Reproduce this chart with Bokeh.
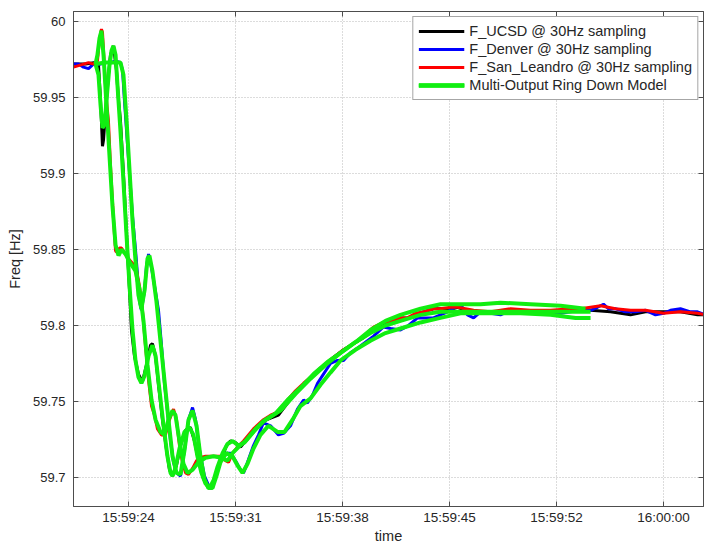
from bokeh.plotting import figure
from bokeh.models import (Range1d, FixedTicker, LinearAxis, Legend, LegendItem,
                          CustomJSTickFormatter)
from bokeh.embed import file_html
from bokeh.resources import INLINE

# ---- data (time = seconds after 15:59:00, frequency in Hz) ----
x_tick_values = [24, 31.2, 38.4, 45.6, 52.8, 60.0]
x_tick_labels = ["15:59:24", "15:59:31", "15:59:38", "15:59:45", "15:59:52", "16:00:00"]
y_tick_values = [59.7, 59.75, 59.8, 59.85, 59.9, 59.95, 60.0]
y_tick_labels = ["59.7", "59.75", "59.8", "59.85", "59.9", "59.95", "60"]

series_names = ["F_UCSD @ 30Hz sampling", "F_Denver @ 30Hz sampling",
                "F_San_Leandro @ 30Hz sampling", "Multi-Output Ring Down Model"]

ucsd_t = [20.30, 21.11, 21.78, 21.98, 22.12, 22.25, 22.32, 22.39, 22.52, 22.65, 22.79, 22.99, 23.19,
          23.33, 23.46, 23.66, 23.93, 24.07, 24.20, 24.40, 24.67, 24.94, 25.21, 25.48, 25.61, 25.82,
          26.02, 26.29, 26.56, 26.76, 26.96, 27.23, 27.50, 27.84, 28.17, 28.44, 28.71, 29.05, 29.32,
          29.52, 29.79, 30.06, 30.33, 30.59, 30.86, 31.20, 31.54, 31.87, 32.41, 33.08, 33.56, 34.09,
          34.70, 35.24, 35.78, 36.38, 36.92, 37.79, 38.47, 39.14, 39.81, 40.49, 41.16, 41.63, 42.30,
          42.77, 43.31, 43.85, 44.52, 44.99, 45.47, 46.14, 46.68, 47.22, 48.36, 49.71, 51.05, 52.40,
          53.74, 55.09, 56.43, 57.78, 58.79, 60.00, 61.14, 62.29, 62.83]
ucsd_f = [59.972, 59.972, 59.973, 59.972, 59.948, 59.918, 59.922, 59.932, 59.948, 59.965, 59.978,
          59.984, 59.968, 59.948, 59.935, 59.900, 59.849, 59.823, 59.797, 59.780, 59.768, 59.763,
          59.774, 59.787, 59.788, 59.780, 59.761, 59.738, 59.718, 59.705, 59.701, 59.708, 59.721,
          59.731, 59.733, 59.724, 59.711, 59.699, 59.695, 59.694, 59.699, 59.708, 59.714, 59.721,
          59.724, 59.723, 59.720, 59.724, 59.731, 59.737, 59.739, 59.741, 59.749, 59.756, 59.761,
          59.767, 59.772, 59.779, 59.784, 59.788, 59.792, 59.797, 59.800, 59.803, 59.805, 59.805,
          59.807, 59.809, 59.811, 59.811, 59.810, 59.812, 59.810, 59.809, 59.809, 59.809, 59.809,
          59.809, 59.810, 59.810, 59.809, 59.807, 59.809, 59.809, 59.809, 59.807, 59.807]

denver_t = [20.30, 20.64, 20.97, 21.31, 21.64, 22.12, 22.45, 22.79, 23.13, 23.46, 23.60, 23.73,
            23.87, 24.07, 24.27, 24.47, 24.61, 24.74, 24.87, 25.08, 25.21, 25.35, 25.55, 25.82,
            26.02, 26.22, 26.42, 26.62, 26.83, 27.03, 27.23, 27.50, 27.77, 28.04, 28.31, 28.51,
            28.78, 29.11, 29.38, 29.65, 29.92, 30.19, 30.53, 30.86, 31.20, 31.54, 31.74, 32.01,
            32.41, 32.75, 33.08, 33.56, 34.09, 34.43, 34.90, 35.37, 35.78, 36.04, 36.38, 36.72,
            37.12, 37.59, 38.06, 38.47, 38.94, 39.41, 39.95, 40.49, 41.16, 41.63, 42.30, 42.84,
            43.45, 43.99, 44.52, 44.99, 45.47, 45.80, 46.14, 46.47, 46.81, 47.22, 47.69, 48.36,
            49.03, 49.71, 50.38, 51.05, 51.72, 52.40, 53.07, 53.74, 54.42, 55.09, 55.56, 55.96,
            56.30, 56.77, 57.44, 58.12, 58.79, 59.46, 60.00, 60.47, 61.14, 61.82, 62.29, 62.83]
denver_f = [59.972, 59.972, 59.970, 59.969, 59.972, 59.972, 59.973, 59.973, 59.974, 59.973, 59.968,
            59.948, 59.928, 59.900, 59.872, 59.850, 59.833, 59.816, 59.810, 59.823, 59.839, 59.847,
            59.838, 59.822, 59.810, 59.787, 59.762, 59.744, 59.724, 59.710, 59.703, 59.701, 59.718,
            59.738, 59.746, 59.738, 59.718, 59.701, 59.695, 59.693, 59.703, 59.711, 59.716, 59.716,
            59.711, 59.705, 59.703, 59.710, 59.721, 59.728, 59.736, 59.734, 59.728, 59.729, 59.734,
            59.745, 59.751, 59.749, 59.754, 59.762, 59.768, 59.775, 59.777, 59.777, 59.782, 59.785,
            59.789, 59.793, 59.799, 59.798, 59.797, 59.800, 59.805, 59.805, 59.805, 59.807, 59.809,
            59.811, 59.813, 59.812, 59.807, 59.805, 59.809, 59.808, 59.807, 59.810, 59.809, 59.809,
            59.808, 59.809, 59.808, 59.809, 59.810, 59.810, 59.812, 59.814, 59.811, 59.811, 59.809,
            59.809, 59.810, 59.807, 59.808, 59.810, 59.811, 59.809, 59.809, 59.807]

sanleandro_t = [20.30, 20.64, 20.97, 21.31, 21.64, 21.91, 22.05, 22.18, 22.25, 22.39, 22.52, 22.65,
                22.79, 22.92, 23.06, 23.13, 23.26, 23.39, 23.53, 23.73, 24.00, 24.27, 24.54, 24.74,
                24.94, 25.14, 25.35, 25.55, 25.75, 25.95, 26.22, 26.49, 26.76, 27.03, 27.23, 27.43,
                27.63, 27.84, 28.04, 28.31, 28.58, 28.84, 29.18, 29.52, 29.85, 30.19, 30.53, 30.73,
                31.00, 31.33, 31.74, 32.41, 33.08, 33.56, 34.03, 34.70, 35.24, 35.78, 36.38, 36.92,
                37.79, 38.47, 39.14, 39.81, 40.49, 41.16, 41.63, 42.30, 42.77, 43.31, 43.85, 44.52,
                44.99, 45.67, 46.14, 46.68, 47.22, 48.36, 49.03, 49.71, 51.05, 52.40, 53.74, 54.42,
                55.09, 55.76, 56.77, 57.78, 58.79, 60.00, 61.14, 62.29, 62.83]
sanleandro_f = [59.970, 59.971, 59.972, 59.973, 59.972, 59.974, 59.988, 59.995, 59.993, 59.968,
                59.948, 59.935, 59.905, 59.882, 59.859, 59.849, 59.848, 59.851, 59.851, 59.848,
                59.844, 59.841, 59.836, 59.826, 59.810, 59.787, 59.764, 59.747, 59.741, 59.732,
                59.728, 59.728, 59.738, 59.745, 59.738, 59.721, 59.710, 59.703, 59.702, 59.706,
                59.711, 59.713, 59.714, 59.714, 59.714, 59.714, 59.711, 59.710, 59.716, 59.720,
                59.724, 59.732, 59.738, 59.741, 59.743, 59.751, 59.757, 59.762, 59.767, 59.772,
                59.779, 59.784, 59.788, 59.793, 59.799, 59.802, 59.803, 59.805, 59.805, 59.808,
                59.809, 59.811, 59.811, 59.812, 59.812, 59.811, 59.810, 59.809, 59.810, 59.811,
                59.810, 59.810, 59.811, 59.811, 59.812, 59.813, 59.811, 59.810, 59.810, 59.808,
                59.809, 59.808, 59.807]

# ring-down model outputs (one per measurement site)
model_sl_t = [21.78, 21.91, 22.05, 22.18, 22.32, 22.52, 22.72, 22.92, 23.13, 23.33, 23.53, 23.80,
              24.13, 24.47, 24.74, 25.01, 25.28, 25.55, 25.82, 26.15, 26.42, 26.69, 26.96, 27.16,
              27.43, 27.70, 27.97, 28.31, 28.71, 29.18, 29.72, 30.26, 30.66, 31.00, 31.40, 31.87,
              32.55, 33.22, 34.23, 35.24, 36.25, 37.26, 38.27, 39.27, 40.28, 41.29, 42.30, 43.65,
              44.99, 46.34, 48.36, 50.38, 52.40, 55.09]
model_sl_f = [59.972, 59.978, 59.989, 59.994, 59.978, 59.945, 59.912, 59.879, 59.853, 59.846,
              59.850, 59.847, 59.841, 59.836, 59.824, 59.803, 59.774, 59.751, 59.738, 59.730,
              59.728, 59.738, 59.744, 59.741, 59.724, 59.709, 59.703, 59.705, 59.710, 59.713,
              59.714, 59.713, 59.711, 59.716, 59.720, 59.724, 59.732, 59.738, 59.744, 59.755,
              59.765, 59.774, 59.782, 59.789, 59.795, 59.800, 59.803, 59.807, 59.809, 59.809,
              59.809, 59.809, 59.809, 59.809]

model_ucsd_t = [21.78, 21.98, 22.12, 22.25, 22.39, 22.52, 22.72, 22.86, 22.99, 23.13, 23.26, 23.46,
                23.66, 23.87, 24.07, 24.27, 24.47, 24.67, 24.87, 25.08, 25.35, 25.61, 25.82, 26.09,
                26.36, 26.62, 26.83, 26.96, 27.16, 27.43, 27.77, 28.10, 28.37, 28.64, 28.91, 29.18,
                29.45, 29.72, 29.99, 30.33, 30.66, 31.00, 31.40, 31.81, 32.41, 33.08, 33.89, 34.70,
                35.57, 36.45, 37.39, 38.27, 39.27, 40.28, 41.29, 42.30, 43.65, 44.99, 46.34, 47.69,
                49.03, 51.05, 53.07, 54.75]
model_ucsd_f = [59.972, 59.965, 59.945, 59.930, 59.932, 59.948, 59.971, 59.981, 59.984, 59.978,
                59.958, 59.928, 59.895, 59.859, 59.826, 59.797, 59.777, 59.766, 59.762, 59.767,
                59.780, 59.787, 59.780, 59.757, 59.734, 59.714, 59.703, 59.701, 59.706, 59.719,
                59.730, 59.733, 59.728, 59.714, 59.703, 59.696, 59.693, 59.698, 59.707, 59.716,
                59.722, 59.724, 59.721, 59.723, 59.730, 59.737, 59.742, 59.751, 59.759, 59.768,
                59.776, 59.782, 59.789, 59.797, 59.803, 59.807, 59.811, 59.814, 59.814, 59.814,
                59.815, 59.814, 59.813, 59.811]

model_denver_t = [21.78, 22.45, 23.13, 23.46, 23.66, 23.87, 24.07, 24.27, 24.47, 24.67, 24.87, 25.08,
                  25.28, 25.41, 25.61, 25.88, 26.15, 26.42, 26.69, 26.96, 27.23, 27.50, 27.77, 28.04,
                  28.31, 28.58, 28.84, 29.11, 29.38, 29.65, 29.92, 30.19, 30.59, 31.00, 31.33, 31.67,
                  32.01, 32.41, 32.88, 33.42, 34.03, 34.50, 35.04, 35.57, 36.25, 36.92, 37.59, 38.27,
                  39.27, 40.28, 41.29, 42.30, 43.65, 44.99, 46.34, 48.36, 50.38, 52.40, 54.08, 55.09]
model_denver_f = [59.972, 59.973, 59.973, 59.973, 59.965, 59.935, 59.902, 59.869, 59.843, 59.820,
                  59.811, 59.823, 59.844, 59.846, 59.836, 59.816, 59.790, 59.764, 59.738, 59.714,
                  59.703, 59.702, 59.718, 59.738, 59.744, 59.734, 59.714, 59.699, 59.693, 59.693,
                  59.701, 59.710, 59.716, 59.714, 59.708, 59.703, 59.709, 59.719, 59.728, 59.734,
                  59.730, 59.730, 59.738, 59.747, 59.752, 59.761, 59.769, 59.777, 59.784, 59.790,
                  59.795, 59.798, 59.802, 59.805, 59.808, 59.808, 59.808, 59.807, 59.805, 59.805]

FONT = "Liberation Sans"
TXT = "#262626"
AX = "#4d4d4d"

p = figure(width=706, height=546, output_backend="svg", toolbar_location=None,
           x_range=Range1d(20.30, 62.69), y_range=Range1d(59.6809, 60.0066),
           min_border_left=73, min_border_right=3, min_border_top=11, min_border_bottom=40,
           background_fill_color="white", border_fill_color="white")
p.outline_line_color = AX
p.outline_line_width = 1

r_k = p.line(ucsd_t, ucsd_f, line_color="black", line_width=3)
r_b = p.line(denver_t, denver_f, line_color="#0000ff", line_width=3)
r_r = p.line(sanleandro_t, sanleandro_f, line_color="#ff0000", line_width=3)
g1 = p.line(model_sl_t, model_sl_f, line_color="#11ee11", line_width=4)
g2 = p.line(model_ucsd_t, model_ucsd_f, line_color="#11ee11", line_width=4)
g3 = p.line(model_denver_t, model_denver_f, line_color="#11ee11", line_width=4)

# axes
p.xaxis.ticker = FixedTicker(ticks=x_tick_values)
p.xaxis.major_label_overrides = dict(zip(x_tick_values, x_tick_labels))
p.yaxis.ticker = FixedTicker(ticks=y_tick_values)
p.yaxis.major_label_overrides = dict(zip(y_tick_values, y_tick_labels))
p.xaxis.axis_label = "time"
p.yaxis.axis_label = "Freq [Hz]"
for ax in (p.xaxis[0], p.yaxis[0]):
    ax.major_tick_in = 5
    ax.major_tick_out = 0
    ax.minor_tick_line_color = None
    ax.axis_line_color = AX
    ax.major_tick_line_color = AX
    ax.major_label_text_font = FONT
    ax.major_label_text_color = TXT
    ax.axis_label_text_font = FONT
    ax.axis_label_text_font_size = "14.5px"
    ax.axis_label_text_font_style = "normal"
    ax.axis_label_text_color = TXT
p.xaxis.major_label_text_font_size = "13.5px"
p.yaxis.major_label_text_font_size = "13px"
p.xaxis.major_label_standoff = 3
p.xaxis.axis_label_standoff = 0
p.yaxis.major_label_standoff = 8
p.yaxis.axis_label_standoff = 7

blank = CustomJSTickFormatter(code="return ''")
top = LinearAxis(ticker=FixedTicker(ticks=x_tick_values), formatter=blank,
                 major_tick_in=5, major_tick_out=0, minor_tick_line_color=None,
                 axis_line_color=AX, major_tick_line_color=AX, major_label_standoff=0)
right = LinearAxis(ticker=FixedTicker(ticks=y_tick_values), formatter=blank,
                   major_tick_in=5, major_tick_out=0, minor_tick_line_color=None,
                   axis_line_color=AX, major_tick_line_color=AX, major_label_standoff=0)
p.add_layout(top, "above")
p.add_layout(right, "right")

for g in (p.xgrid[0], p.ygrid[0]):
    g.grid_line_color = "#b8b8b8"
    g.grid_line_dash = "1 2"
    g.grid_line_width = 1

legend = Legend(items=[LegendItem(label=series_names[0], renderers=[r_k]),
                       LegendItem(label=series_names[1], renderers=[r_b]),
                       LegendItem(label=series_names[2], renderers=[r_r]),
                       LegendItem(label=series_names[3], renderers=[g1, g2, g3])],
                location="top_right")
legend.margin = 5
legend.padding = 5
legend.spacing = 0
legend.label_height = 18
legend.glyph_height = 18
legend.glyph_width = 46
legend.label_standoff = 5
legend.label_text_font = FONT
legend.label_text_font_size = "14.5px"
legend.label_text_color = TXT
legend.border_line_color = AX
legend.border_line_width = 1
legend.background_fill_alpha = 1
p.add_layout(legend)

open("out.html", "w").write(file_html(p, INLINE))
